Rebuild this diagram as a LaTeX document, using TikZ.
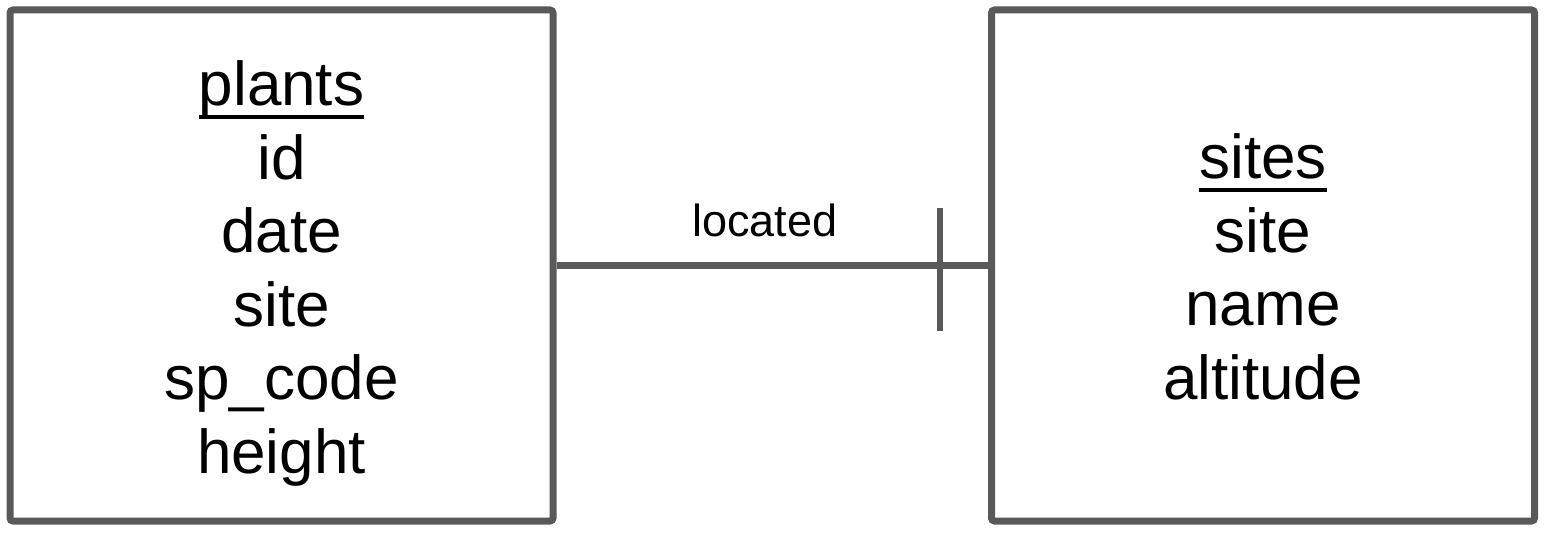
\documentclass[tikz,border=0pt]{standalone}
\usepackage{fontspec}
\setmainfont{Liberation Sans}
\definecolor{boxgray}{HTML}{595959}
\newcommand\ulx[1]{\setbox0\hbox{#1}\rlap{\rule[-0.225em]{\wd0}{0.07em}}\box0}
\tikzset{
  entity/.style={draw=boxgray, line width=7pt, rounded corners=3pt, minimum width=543pt, minimum height=511pt, inner sep=0pt},
  fields/.style={align=center, inner sep=0pt, anchor=base, font=\fontsize{62}{73.5}\selectfont},
  rel/.style={draw=boxgray, line width=7pt},
  tick/.style={draw=boxgray, line width=6.5pt},
  rellabel/.style={font=\fontsize{45}{54}\selectfont, inner sep=0pt, anchor=base}
}
\begin{document}
\begin{tikzpicture}[x=1pt,y=-1pt]
\useasboundingbox (0,0) rectangle (1546,534);
\node[entity] (plants) at (281.5,265.5) {};
\node[entity] (sites) at (1263,265.5) {};
\node[fields] (plantsfields) at (281.5,473) {\ulx{plants}\\id\\date\\site\\sp\_code\\height};
\node[fields] (sitesfields) at (1263,399) {\ulx{sites}\\site\\name\\altitude};
\draw[rel] (plants.east) -- (sites.west);
\coordinate (tickc) at ([xshift=-48pt,yshift=-4pt]sites.west);
\draw[tick] ([yshift=61.5pt]tickc) -- ([yshift=-61.5pt]tickc);
\node[rellabel] (located) at (765,237) {located};
\end{tikzpicture}
\end{document}
